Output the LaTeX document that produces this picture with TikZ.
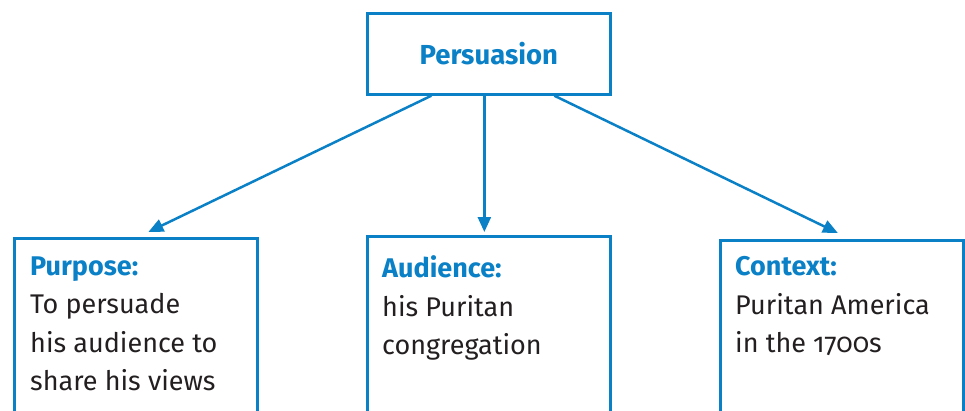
\documentclass[tikz,border=0pt]{standalone}
\usepackage{fontspec}
\setmainfont{Fira Sans}[Numbers=OldStyle]
\usetikzlibrary{arrows.meta}
\definecolor{cblue}{RGB}{10,128,198}
\definecolor{ctext}{RGB}{35,31,32}
\begin{document}
\begin{tikzpicture}[x=1pt,y=-1pt,
  box/.style={draw=cblue, line width=2.7pt, anchor=north west, inner sep=0pt},
  arr/.style={draw=cblue, line width=2.5pt, -{Triangle[length=15pt,width=13pt]}},
  body/.style={anchor=north west, align=left, inner sep=0pt, text=ctext, font=\fontsize{27}{38.5}\selectfont},
]
\clip (0,0) rectangle (965,410);
\node[box, minimum width=243pt, minimum height=81pt] (top) at (366,12) {};
\node[text=cblue, font=\bfseries\fontsize{27.5}{30}\selectfont, inner sep=0pt] (toplabel) at (top.center) {Persuasion};
\node[box, minimum width=243pt, minimum height=200pt] (purpose) at (13,237) {};
\node[box, minimum width=243pt, minimum height=200pt] (audience) at (366,235) {};
\node[box, minimum width=243pt, minimum height=200pt] (context) at (719,239) {};
\node[body] (purposetext) at (30,256.5) {{\color{cblue}\bfseries Purpose:}\\To persuade\\his audience to\\share his views};
\node[body] (audiencetext) at (382,255.5) {{\color{cblue}\bfseries Audience:}\\his Puritan\\congregation};
\node[body] (contexttext) at (735,256.5) {{\color{cblue}\bfseries Context:}\\Puritan America\\in the 1700s};
\draw[arr] ([xshift=-57.5pt]top.south) -- ([xshift=12.5pt,yshift=5pt]purpose.north);
\draw[arr] ([xshift=-4.5pt]top.south) -- ([xshift=-4.5pt,yshift=3pt]audience.north);
\draw[arr] ([xshift=65.5pt]top.south) -- ([xshift=-4pt,yshift=6pt]context.north);
\end{tikzpicture}
\end{document}
